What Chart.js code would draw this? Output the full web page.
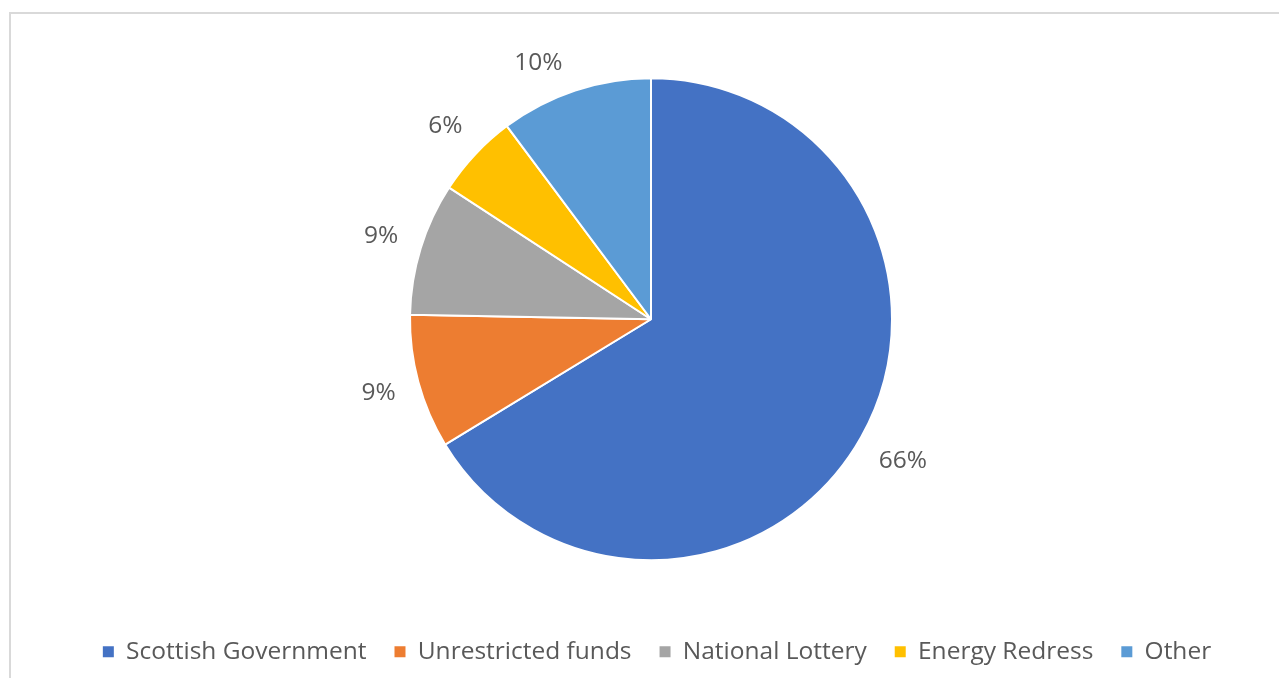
<!DOCTYPE html>
<html>
<head>
<meta charset="utf-8">
<script src="https://cdn.jsdelivr.net/npm/chart.js@4.4.1/dist/chart.umd.min.js"></script>
<style>
  html,body{margin:0;padding:0;background:#fff;}
  #wrap{position:relative;width:1279px;height:678px;overflow:hidden;}
  #frame{position:absolute;left:9px;top:12px;right:-10px;bottom:-10px;border-top:2px solid #d9d9d9;border-left:2px solid #d9d9d9;}
  canvas{position:absolute;left:0;top:0;}
</style>
</head>
<body>
<div id="wrap">
  <div id="frame"></div>
  <canvas id="pie" width="1279" height="678"></canvas>
</div>
<script>
// funding sources, share of total (%)
const sources = ['Scottish Government', 'Unrestricted funds', 'National Lottery', 'Energy Redress', 'Other'];
const shares = [66.3, 9.0, 8.9, 5.6, 10.2];
const colors = ['#4472c4', '#ed7d31', '#a5a5a5', '#ffc000', '#5b9bd5'];

const FONT = '"Open Sans", "Noto Sans", sans-serif';
const TEXT = '#595959';
const SIZE = 24.5;
const LABEL_GAP = 22;   // space between pie edge and label box
const LABEL_TOP = 63;   // labels never sit higher than this (center y)
const LEGEND_NUDGE = 6; // legend sits a touch right of the pie centre

// percentage labels outside each slice; the label box sits just clear of the rim
// and gets slid round the circle if it would poke above the plot
const outsideLabels = {
  id: 'outsideLabels',
  afterLayout(chart){
    chart.legend.left += LEGEND_NUDGE;
    chart.legend.right += LEGEND_NUDGE;
  },
  afterDatasetsDraw(chart){
    const ctx = chart.ctx;
    const meta = chart.getDatasetMeta(0);
    ctx.save();
    ctx.font = SIZE + 'px ' + FONT;
    ctx.fillStyle = TEXT;
    ctx.textAlign = 'center';
    ctx.textBaseline = 'middle';
    meta.data.forEach((arc, i)=>{
      const p = arc.getProps(['x','y','startAngle','endAngle','outerRadius'], true);
      const txt = Math.round(shares[i]) + '%';
      const w = ctx.measureText(txt).width, h = SIZE*0.8;
      const mid = (p.startAngle + p.endAngle)/2;
      let c = Math.cos(mid), s = Math.sin(mid);
      const dist = p.outerRadius + LABEL_GAP + Math.abs(c)*w/2 + Math.abs(s)*h/2;
      if (p.y + s*dist < LABEL_TOP){
        s = (LABEL_TOP - p.y)/dist;
        c = Math.sign(c) * Math.sqrt(Math.max(0, 1 - s*s));
      }
      ctx.fillText(txt, p.x + c*dist, p.y + s*dist);
    });
    ctx.restore();
  }
};

const defaultLabels = Chart.overrides.pie.plugins.legend.labels.generateLabels;

new Chart(document.getElementById('pie'), {
  type: 'pie',
  data: {
    labels: sources,
    datasets: [{ data: shares, backgroundColor: colors, borderColor: '#fff', borderWidth: 2, radius: 241 }]
  },
  options: {
    responsive: false,
    animation: false,
    layout: { padding: { top: 27, left: 23, right: 0, bottom: 4 } },
    plugins: {
      tooltip: { enabled: false },
      legend: {
        position: 'bottom',
        labels: {
          boxWidth: 11, boxHeight: 11, padding: 28, color: TEXT,
          font: { family: FONT, size: SIZE },
          generateLabels: chart => defaultLabels(chart).map(l => ({ ...l, lineWidth: 0 }))
        }
      }
    }
  },
  plugins: [outsideLabels]
});
</script>
</body>
</html>
